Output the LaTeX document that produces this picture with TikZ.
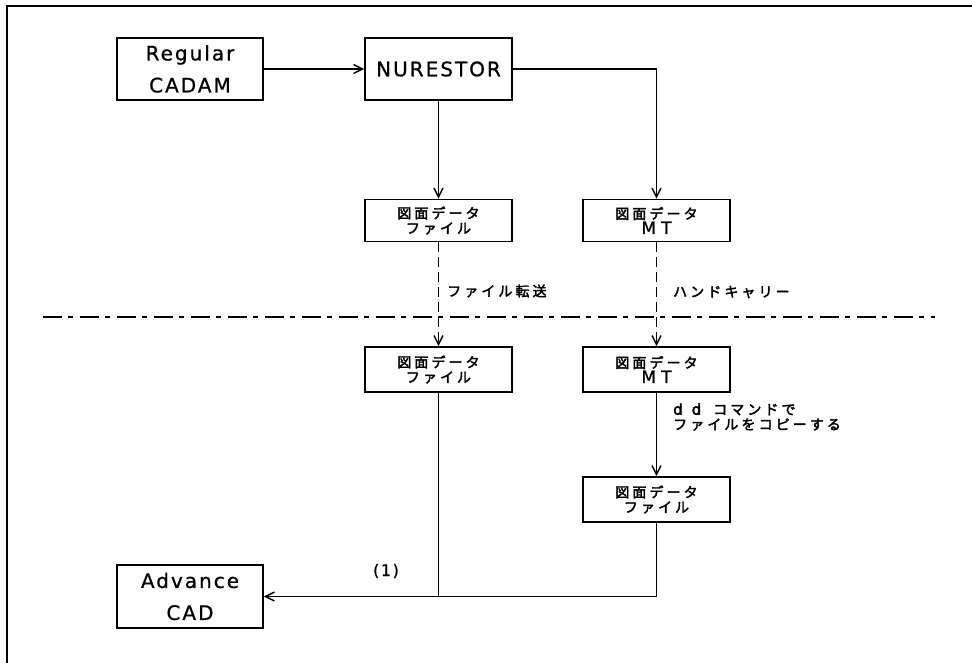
\documentclass[tikz,border=0pt]{standalone}
\usepackage{fontspec}
\setmainfont{DejaVu Sans}
\newfontfamily\jpf{Noto Sans CJK JP}[FakeBold=2.5,LetterSpace=22]
\newfontfamily\latsp{DejaVu Sans}[LetterSpace=10,FakeBold=0.8]
\newfontfamily\latwide{DejaVu Sans}[LetterSpace=30,FakeBold=1.2]
\newfontfamily\latdd{DejaVu Sans}[FakeBold=3]
\usetikzlibrary{arrows.meta}
\begin{document}
\begin{tikzpicture}[x=1pt,y=-1pt,
  box/.style={draw,line width=1.8pt,inner sep=0pt,align=center},
  bigbox/.style={box,minimum width=147pt,minimum height=62pt,font=\latsp\fontsize{20}{32}\selectfont},
  databox/.style={box,minimum width=147pt,minimum height=42pt,font=\jpf\fontsize{14}{15}\selectfont},
  conn/.style={line width=1.7pt},
  arr/.style={conn,-{Straight Barb[length=9pt,width=9pt,line width=1.4pt]}},
  darr/.style={arr,dash pattern=on 10pt off 5pt},
  lbl/.style={inner sep=0pt,anchor=west,font=\jpf\fontsize{14}{15}\selectfont,align=left}]
\useasboundingbox (0,0) rectangle (972,663);
\draw[line width=2.2pt] (7,663) -- (7,6) -- (972,6);

\node[bigbox,minimum width=146pt] (rc) at (190,69) {Regular\\CADAM};
\node[bigbox,minimum width=147pt] (nu) at (438.5,69) {NURESTOR};
\node[databox] (f1) at (438.5,220.5) {図面データ\\ファイル};
\node[databox] (m1) at (656.5,220.5) {図面データ\\{\latwide\fontsize{17}{15}\selectfont MT}};
\node[databox,minimum height=45pt] (f2) at (438.5,369.5) {図面データ\\ファイル};
\node[databox,minimum height=45pt] (m2) at (656.5,369.5) {図面データ\\{\latwide\fontsize{17}{15}\selectfont MT}};
\node[databox,minimum height=45pt] (f3) at (656.5,499.5) {図面データ\\ファイル};
\node[bigbox,minimum width=146pt,minimum height=63pt] (ad) at (190,596.5) {Advance\\CAD};

\coordinate (dl) at (43,317);
\coordinate (dr) at (935,317);
\draw[line width=2pt,dash pattern=on 19pt off 6pt on 5pt off 7pt] (dl) -- (dr);

\draw[arr] (rc.east) -- (nu.west);
\draw[arr] (nu.east) -| (m1.north);
\draw[arr] (nu.south) -- (f1.north);
\draw[darr] (f1.south) -- (f2.north);
\draw[darr] (m1.south) -- (m2.north);
\draw[arr] (m2.south) -- (f3.north);
\draw[arr] (f3.south) |- (ad.east);
\draw[conn] (f2.south) -- (f2.south |- ad.east);

\node[lbl] (t1) at (447,291) {ファイル転送};
\node[lbl] (t2) at (673,292) {ハンドキャリー};
\node[lbl] (t3) at (673,417) {{\latdd\fontsize{15}{15}\selectfont d\hspace{9pt}d}\hspace{12pt}コマンドで\\ファイルをコピーする};
\node[inner sep=0pt,font=\latsp\fontsize{16}{16}\selectfont] (t4) at (386,571) {(1)};
\end{tikzpicture}
\end{document}
